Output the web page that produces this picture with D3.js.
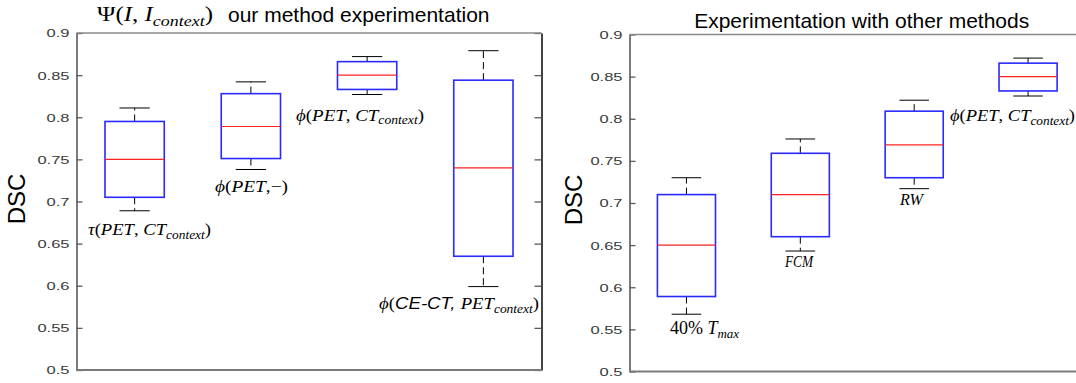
<!DOCTYPE html>
<html><head><meta charset="utf-8">
<script src="https://cdn.jsdelivr.net/npm/d3@7/dist/d3.min.js"></script>
<style>
html,body{margin:0;padding:0;background:#fff;}
svg{display:block;}
</style></head>
<body><svg id="c" width="1076" height="383"></svg>
<script>
// ---------- data ----------
const yTicks = [0.5, 0.55, 0.6, 0.65, 0.7, 0.75, 0.8, 0.85, 0.9];
const yTickLabels = ["0.5", "0.55", "0.6", "0.65", "0.7", "0.75", "0.8", "0.85", "0.9"];

const leftCategories = ["tau_PET_CT", "phi_PET", "phi_PET_CT", "phi_CECT_PET"];
const leftLowWhisker = [0.689, 0.738, 0.827, 0.599];
const leftQ1 = [0.705, 0.751, 0.833, 0.635];
const leftMedian = [0.750, 0.789, 0.850, 0.740];
const leftQ3 = [0.795, 0.828, 0.866, 0.844];
const leftHighWhisker = [0.811, 0.842, 0.872, 0.879];

const rightCategories = ["T40", "FCM", "RW", "phi_PET_CT"];
const rightLowWhisker = [0.568, 0.643, 0.717, 0.827];
const rightQ1 = [0.589, 0.660, 0.730, 0.833];
const rightMedian = [0.650, 0.710, 0.769, 0.850];
const rightQ3 = [0.710, 0.759, 0.809, 0.866];
const rightHighWhisker = [0.730, 0.776, 0.822, 0.872];

const yLabel = "DSC";
const rightTitle = "Experimentation with other methods";
const leftTitleText = "our method experimentation";

// ---------- drawing ----------
const svg = d3.select("#c");
const AX = "#5a5a5a";

function panel(o) {
  const g = svg.append("g");
  const x = d3.scaleBand().domain(o.cats).range([o.x0, o.x1]);
  const y = d3.scaleLinear().domain([0.5, 0.9]).range([o.y1, o.y0]);

  const ax = g.append("g").attr("transform", `translate(${o.x0},0)`)
    .call(d3.axisLeft(y).tickValues(yTicks).tickSize(-6).tickSizeOuter(0)
      .tickFormat((d, i) => yTickLabels[i]));
  ax.select(".domain").attr("stroke", AX).attr("stroke-width", 1.6);
  ax.selectAll(".tick line").attr("stroke", AX).attr("stroke-width", 1.3);
  ax.selectAll(".tick text")
    .attr("font-family", "Liberation Sans, Arial, sans-serif")
    .attr("font-size", 11).attr("fill", "#3a3a3a")
    .attr("x", -7 / 1.5).attr("dy", "0.36em")
    .attr("transform", "scale(1.5,1)");

  if (o.rightAxis) {
    const ar = g.append("g").attr("transform", `translate(${o.x1},0)`)
      .call(d3.axisRight(y).tickValues(yTicks).tickSize(-7).tickSizeOuter(0).tickFormat(""));
    ar.select(".domain").attr("stroke", "#444").attr("stroke-width", 2);
    ar.selectAll(".tick line").attr("stroke", AX).attr("stroke-width", 1.3);
  }
  g.append("line").attr("x1", o.x0).attr("x2", o.x1).attr("y1", y(0.9)).attr("y2", y(0.9))
    .attr("stroke", "#8a8a8a").attr("stroke-width", 1.5);
  g.append("line").attr("x1", o.x0).attr("x2", o.x1).attr("y1", y(0.5)).attr("y2", y(0.5))
    .attr("stroke", "#7a7a7a").attr("stroke-width", 2);

  const bw = x.bandwidth() * 0.51;
  const cw = x.bandwidth() * 0.26;
  o.cats.forEach((c, i) => {
    const cx = x(c) + x.bandwidth() / 2;
    const b = g.append("g");
    b.append("line").attr("x1", cx).attr("x2", cx).attr("y1", y(o.q3[i])).attr("y2", y(o.hi[i]))
      .attr("stroke", "#000").attr("stroke-width", 1).attr("stroke-dasharray", "7,4");
    b.append("line").attr("x1", cx).attr("x2", cx).attr("y1", y(o.q1[i])).attr("y2", y(o.lo[i]))
      .attr("stroke", "#000").attr("stroke-width", 1).attr("stroke-dasharray", "7,4");
    [o.hi[i], o.lo[i]].forEach(v => {
      b.append("line").attr("x1", cx - cw / 2).attr("x2", cx + cw / 2).attr("y1", y(v)).attr("y2", y(v))
        .attr("stroke", "#000").attr("stroke-width", 1);
    });
    b.append("rect").attr("x", cx - bw / 2).attr("width", bw)
      .attr("y", y(o.q3[i])).attr("height", y(o.q1[i]) - y(o.q3[i]))
      .attr("fill", "none").attr("stroke", "#2a2aff").attr("stroke-width", 1.6);
    b.append("line").attr("x1", cx - bw / 2).attr("x2", cx + bw / 2)
      .attr("y1", y(o.med[i])).attr("y2", y(o.med[i]))
      .attr("stroke", "#ff2020").attr("stroke-width", 1.2);
  });

  svg.append("text").attr("transform", `translate(${o.ylx},${o.yly}) rotate(-90)`)
    .attr("text-anchor", "middle").attr("font-family", "Liberation Sans, Arial, sans-serif")
    .attr("font-size", 24).attr("fill", "#000").text(yLabel);
  return { x, y };
}

panel({ x0: 76.5, x1: 541.5, y0: 33, y1: 370, cats: leftCategories,
  lo: leftLowWhisker, q1: leftQ1, med: leftMedian, q3: leftQ3, hi: leftHighWhisker,
  rightAxis: true, ylx: 25, yly: 199 });
panel({ x0: 629.5, x1: 1085, y0: 34.5, y1: 371.5, cats: rightCategories,
  lo: rightLowWhisker, q1: rightQ1, med: rightMedian, q3: rightQ3, hi: rightHighWhisker,
  rightAxis: false, ylx: 582, yly: 200 });

// ---------- math-style labels ----------
const SERIF = "Liberation Serif, Times New Roman, serif";
const SANS = "Liberation Sans, Arial, sans-serif";
function mathLabel(xp, yp, parts, size, width) {
  const t = svg.append("text").attr("x", xp).attr("y", yp).attr("font-size", size)
    .attr("font-family", SERIF).attr("fill", "#000");
  parts.forEach(p => {
    const s = t.append("tspan").text(p.t)
      .attr("font-style", p.up ? "normal" : "italic")
      .attr("font-family", p.sans ? SANS : SERIF);
    if (p.sub) s.attr("font-size", size * 0.72).attr("dy", size * 0.22);
    if (p.unsub) s.attr("dy", -size * 0.22);
  });
  if (width) t.attr("textLength", width).attr("lengthAdjust", "spacingAndGlyphs");
  return t;
}

mathLabel(97, 21, [{ t: "Ψ", up: true }, { t: "(" , up: true}, { t: "I" }, { t: ", ", up: true }, { t: "I" },
  { t: "context", sub: true }, { t: ")", unsub: true, up: true }], 21, 116);
svg.append("text").attr("x", 228).attr("y", 22.3).attr("font-family", SANS).attr("font-size", 21)
  .attr("fill", "#000").text(leftTitleText);
svg.append("text").attr("x", 861.7).attr("y", 28.3).attr("text-anchor", "middle")
  .attr("font-family", SANS).attr("font-size", 21).attr("fill", "#000").text(rightTitle);

mathLabel(88, 235, [{ t: "τ" }, { t: "(", up: true }, { t: "PET" }, { t: ", ", up: true }, { t: "CT" },
  { t: "context", sub: true }, { t: ")", unsub: true, up: true }], 17, 123);
mathLabel(215, 192, [{ t: "ϕ" }, { t: "(", up: true }, { t: "PET" }, { t: ",−)", up: true }], 17, 73);
mathLabel(296, 120.5, [{ t: "ϕ" }, { t: "(", up: true }, { t: "PET" }, { t: ", ", up: true }, { t: "CT" },
  { t: "context", sub: true }, { t: ")", unsub: true, up: true }], 17, 128);
mathLabel(379, 309, [{ t: "ϕ" }, { t: "(", up: true }, { t: "CE-CT, ", sans: true }, { t: "PET" },
  { t: "context", sub: true }, { t: ")", unsub: true, up: true }], 17, 160);

mathLabel(670, 334, [{ t: "40% ", up: true }, { t: "T" }, { t: "max", sub: true }], 18);
mathLabel(785, 267, [{ t: "FCM" }], 17, 28);
mathLabel(900, 205, [{ t: "RW" }], 17, 23);
mathLabel(950, 121, [{ t: "ϕ" }, { t: "(", up: true }, { t: "PET" }, { t: ", ", up: true }, { t: "CT" },
  { t: "context", sub: true }, { t: ")", unsub: true, up: true }], 17, 125);
</script></body></html>
